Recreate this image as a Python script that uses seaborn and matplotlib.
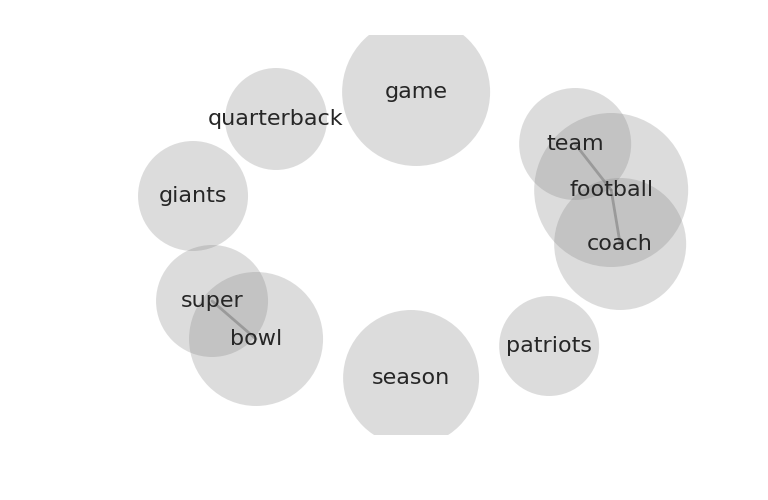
import numpy as np
import pandas as pd
import matplotlib.pyplot as plt
import seaborn as sns

words = ["game", "quarterback", "giants", "super", "bowl", "season",
         "patriots", "coach", "football", "team"]
pos_x = [416, 276, 193, 212, 256, 411, 549, 620, 611, 575]
pos_y = [92, 119, 196, 301, 339, 378, 346, 244, 190, 144]
radius = [74, 51, 55, 56, 67, 68, 50, 66, 77, 56]
links = [("team", "football"), ("football", "coach"), ("super", "bowl")]

DPI = 100
nodes = pd.DataFrame({"word": words, "x": pos_x, "y": pos_y, "r": radius})
# marker area in points^2 from pixel radius
nodes["area"] = (2 * nodes["r"] * 72 / DPI) ** 2

sns.set_style("white")
fig = plt.figure(figsize=(7.68, 5), dpi=DPI)
ax = fig.add_axes([0.125, 0.13, 0.775, 0.8])

lookup = nodes.set_index("word")
for a, b in links:
    ax.plot([lookup.loc[a, "x"], lookup.loc[b, "x"]],
            [lookup.loc[a, "y"], lookup.loc[b, "y"]],
            color="#808080", alpha=0.6, lw=2, zorder=1)

sns.scatterplot(data=nodes, x="x", y="y", size="area",
                sizes=(nodes["area"].min(), nodes["area"].max()),
                color="#808080", alpha=0.27, linewidth=0, legend=False,
                ax=ax, zorder=2)

for _, row in nodes.iterrows():
    ax.text(row["x"], row["y"], row["word"], ha="center", va="center",
            fontsize=16, zorder=3)

ax.set_xlim(96, 691)
ax.set_ylim(435, 35)
ax.axis("off")
fig.savefig("out.png", dpi=DPI)
